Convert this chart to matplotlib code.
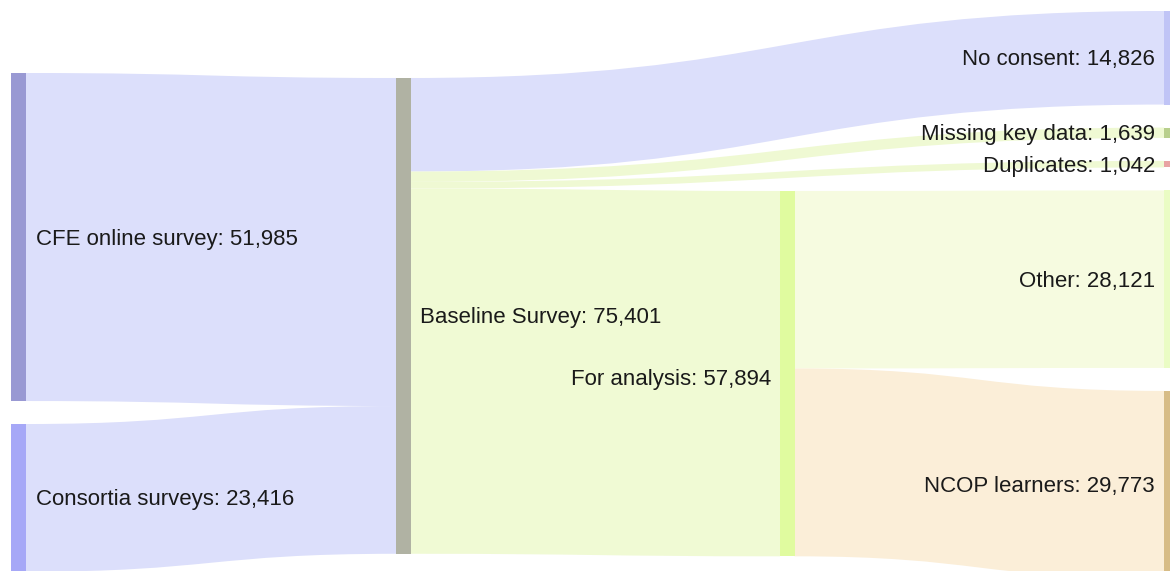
"""Sankey of survey responses: sources -> baseline -> exclusions / analysis."""
import matplotlib

matplotlib.use("Agg")
import matplotlib.pyplot as plt
from matplotlib.path import Path
from matplotlib.patches import PathPatch, Rectangle

plt.rcParams["font.family"] = ["Liberation Sans", "DejaVu Sans"]

# --- data -------------------------------------------------------------------
NODES = ["CFE online survey", "Consortia surveys", "Baseline Survey",
         "For analysis", "No consent", "Missing key data", "Duplicates",
         "Other", "NCOP learners"]
NODE_COL = [0, 0, 1, 2, 3, 3, 3, 3, 3]
# (source, target, count)
LINKS = [
    ("CFE online survey", "Baseline Survey", 51985),
    ("Consortia surveys", "Baseline Survey", 23416),
    ("Baseline Survey", "No consent", 14826),
    ("Baseline Survey", "Missing key data", 1639),
    ("Baseline Survey", "Duplicates", 1042),
    ("Baseline Survey", "For analysis", 57894),
    ("For analysis", "Other", 28121),
    ("For analysis", "NCOP learners", 29773),
]

NODE_COLORS = {
    "CFE online survey": "#9999d3", "Consortia surveys": "#a6a8f7",
    "Baseline Survey": "#b0b2a3", "For analysis": "#e0fb9f",
    "No consent": "#c0c4f6", "Missing key data": "#b8cf8c",
    "Duplicates": "#e8a3a3", "Other": "#eafcc4", "NCOP learners": "#d7bc86",
}
LINK_COLORS = ["#dcdffb", "#dcdffb", "#dcdffb", "#eff9d3", "#eff9d3",
               "#f0fad4", "#f6fbe0", "#fbeed8"]

# --- layout (pixel space) -----------------------------------------------------
W, H = 1170, 571
K = 0.00631            # px per respondent
GAP = 23
COL_X = [11, 396, 780, 1164]
COL_TOP = [73, 78, 191, 11]
NODE_W = 14.5
FS = 16

# node value = max(in, out)
inflow = {n: 0 for n in NODES}
outflow = {n: 0 for n in NODES}
for s, t, v in LINKS:
    outflow[s] += v
    inflow[t] += v
value = {n: max(inflow[n], outflow[n]) for n in NODES}

top = {}
cursor = {c: COL_TOP[c] for c in range(4)}
for n, c in zip(NODES, NODE_COL):
    top[n] = cursor[c]
    cursor[c] += value[n] * K + GAP
col_of = dict(zip(NODES, NODE_COL))

fig = plt.figure(figsize=(W / 100, H / 100), dpi=100)
ax = fig.add_axes([0, 0, 1, 1])
ax.set_xlim(0, W)
ax.set_ylim(H, 0)
ax.axis("off")

src_off = {n: 0.0 for n in NODES}
tgt_off = {n: 0.0 for n in NODES}
for (s, t, v), col in zip(LINKS, LINK_COLORS):
    h = v * K
    x0 = COL_X[col_of[s]] + NODE_W
    x1 = COL_X[col_of[t]]
    y0 = top[s] + src_off[s]
    y1 = top[t] + tgt_off[t]
    src_off[s] += h
    tgt_off[t] += h
    xm = (x0 + x1) / 2
    verts = [(x0, y0), (xm, y0), (xm, y1), (x1, y1),
             (x1, y1 + h), (xm, y1 + h), (xm, y0 + h), (x0, y0 + h),
             (x0, y0)]
    codes = [Path.MOVETO, Path.CURVE4, Path.CURVE4, Path.CURVE4,
             Path.LINETO, Path.CURVE4, Path.CURVE4, Path.CURVE4,
             Path.CLOSEPOLY]
    ax.add_patch(PathPatch(Path(verts, codes), facecolor=col,
                           edgecolor="none", zorder=1))

for n in NODES:
    c = col_of[n]
    h = value[n] * K
    ax.add_patch(Rectangle((COL_X[c], top[n]), NODE_W, h,
                           facecolor=NODE_COLORS[n], edgecolor="none",
                           zorder=2))
    label = f"{n}: {value[n]:,}"
    yc = top[n] + h / 2 + 2
    if c in (0, 1):
        ax.text(COL_X[c] + NODE_W + 10, yc, label, ha="left", va="center",
                fontsize=FS, color="#1a1a1a", zorder=3)
    else:
        if c == 2:
            yc += 4
        ax.text(COL_X[c] - 9, yc, label, ha="right", va="center",
                fontsize=FS, color="#1a1a1a", zorder=3)

fig.savefig("out.png", dpi=100)
